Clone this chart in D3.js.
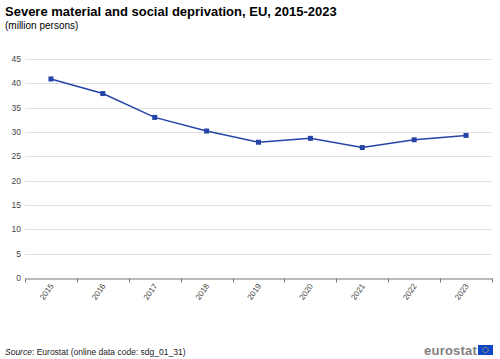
<!DOCTYPE html>
<html><head><meta charset="utf-8">
<script src="https://cdn.jsdelivr.net/npm/d3@7"></script>
<style>body{margin:0;background:#fff;}svg{display:block;font-family:"Liberation Sans",Arial,sans-serif;}</style>
</head><body>
<script>
const years = ["2015","2016","2017","2018","2019","2020","2021","2022","2023"];
const values = [40.9, 37.9, 33.0, 30.2, 27.9, 28.7, 26.8, 28.4, 29.3];
const yTicks = [0,5,10,15,20,25,30,35,40,45];

const W = 500, H = 359;
const svg = d3.select("body").append("svg").attr("width", W).attr("height", H);
const m = {left: 25, right: 8, top: 59, bottom: 81};
const x = d3.scaleBand().domain(years).range([m.left, W - m.right]);
const y = d3.scaleLinear().domain([0, 45]).range([H - m.bottom, m.top]);

svg.append("text").attr("x", 5).attr("y", 16).attr("font-size", 13).attr("font-weight", "bold").attr("fill", "#000")
  .text("Severe material and social deprivation, EU, 2015-2023");
svg.append("text").attr("x", 5).attr("y", 29).attr("font-size", 10).attr("fill", "#000").text("(million persons)");

// grid
svg.append("g").selectAll("line").data(yTicks.filter(d => d > 0)).join("line")
  .attr("x1", m.left).attr("x2", W - m.right)
  .attr("y1", d => Math.round(y(d)) + 0.5).attr("y2", d => Math.round(y(d)) + 0.5)
  .attr("stroke", "#e0e0e0").attr("stroke-width", 1);

// y labels
svg.append("g").selectAll("text").data(yTicks).join("text")
  .attr("x", 21).attr("y", d => y(d) + 3).attr("text-anchor", "end")
  .attr("font-size", 8.5).attr("fill", "#444").text(d => d);

// x axis
const xa = svg.append("g").attr("transform", `translate(0,${Math.round(y(0)) + 0.5})`)
  .call(d3.axisBottom(x).tickSize(0).tickFormat(""));
xa.select(".domain").attr("stroke", "#777");
const bounds = years.map(d => x(d)).concat([x.range()[1]]);
xa.selectAll(".tk").data(bounds).join("line").attr("class", "tk")
  .attr("x1", d => Math.round(d) + 0.5).attr("x2", d => Math.round(d) + 0.5)
  .attr("y1", 0).attr("y2", 4).attr("stroke", "#777");
svg.append("g").selectAll("text").data(years).join("text")
  .attr("transform", d => `translate(${x(d) + x.bandwidth() / 2 + 3},${y(0) + 8}) rotate(-55)`)
  .attr("text-anchor", "end").attr("font-size", 8).attr("fill", "#444").text(d => d);

// line
const cx = d => x(d) + x.bandwidth() / 2;
const line = d3.line().x((d, i) => cx(years[i])).y(d => y(d));
svg.append("path").datum(values).attr("d", line).attr("fill", "none")
  .attr("stroke", "#2644A7").attr("stroke-width", 1.5);
svg.append("g").selectAll("rect").data(values).join("rect")
  .attr("x", (d, i) => cx(years[i]) - 2.5).attr("y", d => y(d) - 2.5)
  .attr("width", 5).attr("height", 5).attr("fill", "#2644A7");

// source
const src = svg.append("text").attr("x", 5).attr("y", 355).attr("font-size", 8.5).attr("fill", "#222");
src.append("tspan").attr("font-style", "italic").text("Source");
src.append("tspan").text(": Eurostat (online data code: sdg_01_31)");

// logo
svg.append("text").attr("x", 477).attr("y", 355).attr("text-anchor", "end").attr("font-size", 13)
  .attr("font-weight", "bold").attr("fill", "#808080").attr("letter-spacing", 0.2).text("eurostat");
svg.append("rect").attr("x", 478).attr("y", 345).attr("width", 15).attr("height", 10).attr("fill", "#0E47CB");
svg.append("circle").attr("cx", 485.5).attr("cy", 350).attr("r", 2.8).attr("fill", "none")
  .attr("stroke", "#FFD617").attr("stroke-width", 1).attr("stroke-dasharray", "0.8 0.9");
</script>
</body></html>
